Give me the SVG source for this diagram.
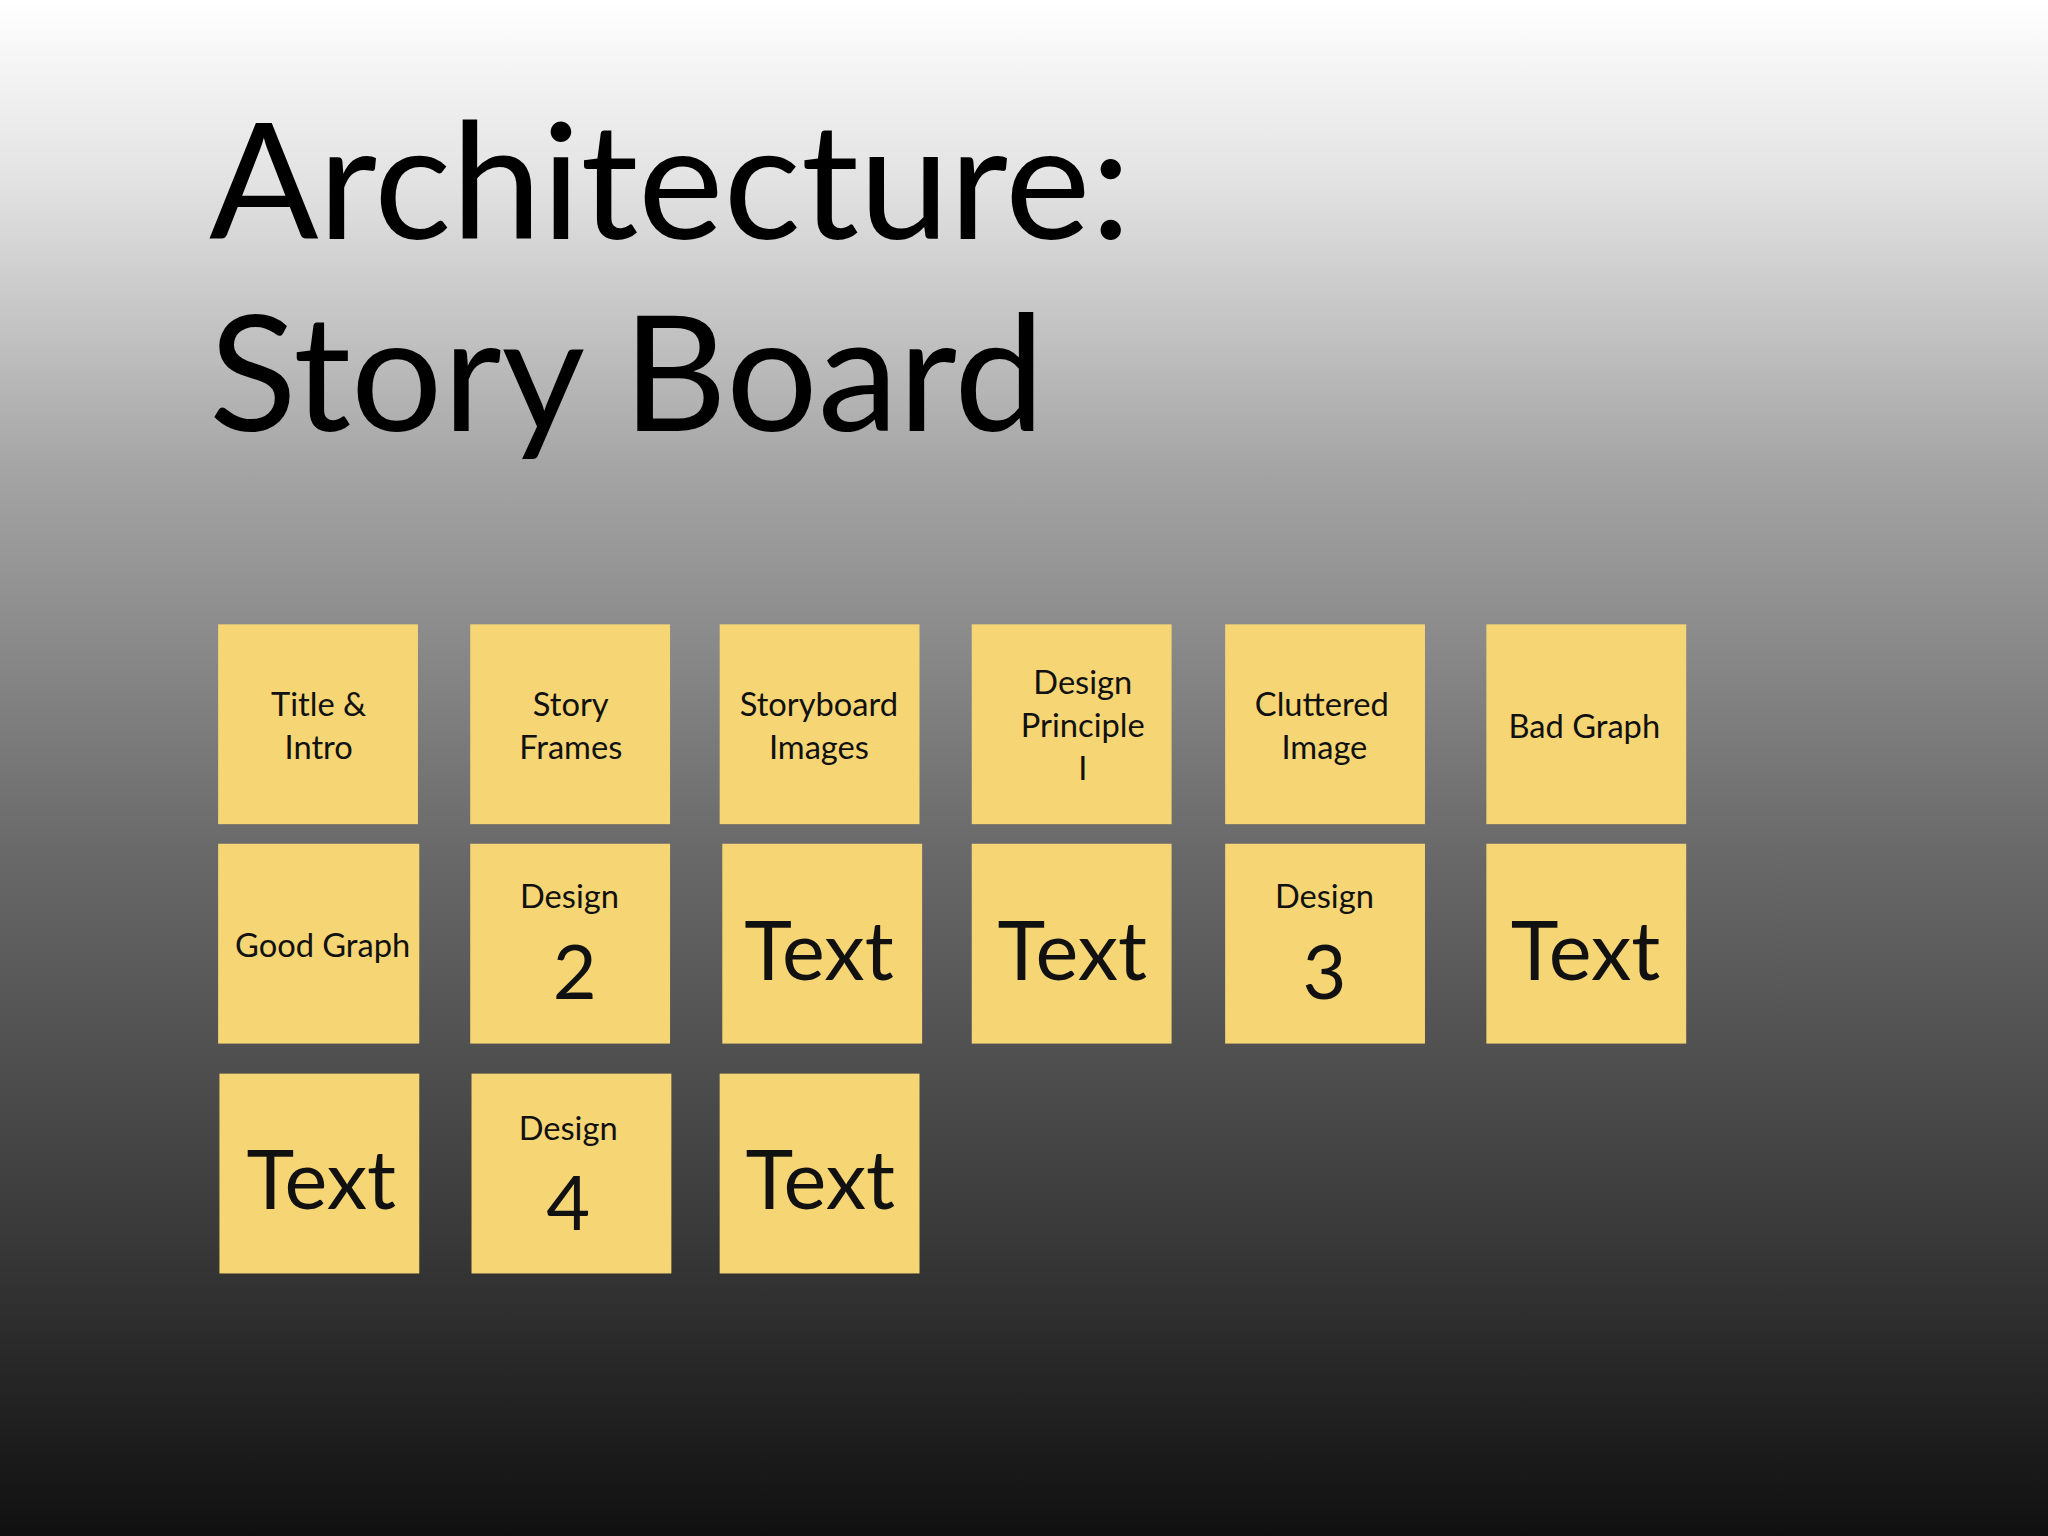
<svg xmlns="http://www.w3.org/2000/svg" width="2048" height="1536" viewBox="0 0 2048 1536">
<defs>
<linearGradient id="bg" x1="0" y1="0" x2="0" y2="1">
<stop offset="0" stop-color="#ffffff"/>
<stop offset="0.12" stop-color="#e2e2e2"/>
<stop offset="0.3" stop-color="#a6a6a6"/>
<stop offset="0.55" stop-color="#6a6a6a"/>
<stop offset="0.8" stop-color="#3a3a3a"/>
<stop offset="1" stop-color="#101010"/>
</linearGradient>
<style>
.n{fill:#f5d574}
.t{font-family:Lato,"Open Sans",sans-serif;fill:#111;text-anchor:middle}
.s{font-size:25px}
.b{font-size:62px}
.d{font-size:58px}
.h{font-family:Lato,"Open Sans",sans-serif;fill:#000;font-size:124px}
</style>
</defs>
<rect width="2048" height="1536" fill="url(#bg)"/>
<g transform="scale(1.30612)">
<g id="title"><text class="h" x="160" y="183">Architecture:</text><text class="h" x="160" y="330">Story Board</text></g>
<g id="n1"><rect class="n" x="167" y="478" width="153" height="153"/><text class="t s" x="244" y="548">Title &amp;</text><text class="t s" x="244" y="581">Intro</text></g>
<g id="n2"><rect class="n" x="360" y="478" width="153" height="153"/><text class="t s" x="437" y="548">Story</text><text class="t s" x="437" y="581">Frames</text></g>
<g id="n3"><rect class="n" x="551" y="478" width="153" height="153"/><text class="t s" x="627" y="548">Storyboard</text><text class="t s" x="627" y="581">Images</text></g>
<g id="n4"><rect class="n" x="744" y="478" width="153" height="153"/><text class="t s" x="829" y="531">Design</text><text class="t s" x="829" y="564">Principle</text><text class="t s" x="829" y="597">I</text></g>
<g id="n5"><rect class="n" x="938" y="478" width="153" height="153"/><text class="t s" x="1012" y="548">Cluttered</text><text class="t s" x="1014" y="581">Image</text></g>
<g id="n6"><rect class="n" x="1138" y="478" width="153" height="153"/><text class="t s" x="1213" y="565">Bad Graph</text></g>
<g id="n7"><rect class="n" x="167" y="646" width="154" height="153"/><text class="t s" x="247" y="733">Good Graph</text></g>
<g id="n8"><rect class="n" x="360" y="646" width="153" height="153"/><text class="t s" x="436" y="695">Design</text><text class="t d" x="440" y="765">2</text></g>
<g id="n9"><rect class="n" x="553" y="646" width="153" height="153"/><text class="t b" x="627" y="750">Text</text></g>
<g id="n10"><rect class="n" x="744" y="646" width="153" height="153"/><text class="t b" x="821" y="750">Text</text></g>
<g id="n11"><rect class="n" x="938" y="646" width="153" height="153"/><text class="t s" x="1014" y="695">Design</text><text class="t d" x="1014" y="765">3</text></g>
<g id="n12"><rect class="n" x="1138" y="646" width="153" height="153"/><text class="t b" x="1214" y="750">Text</text></g>
<g id="n13"><rect class="n" x="168" y="822" width="153" height="153"/><text class="t b" x="246" y="926">Text</text></g>
<g id="n14"><rect class="n" x="361" y="822" width="153" height="153"/><text class="t s" x="435" y="873">Design</text><text class="t d" x="435" y="942">4</text></g>
<g id="n15"><rect class="n" x="551" y="822" width="153" height="153"/><text class="t b" x="628" y="926">Text</text></g>
<g id="connectors"/>
</g>
</svg>
